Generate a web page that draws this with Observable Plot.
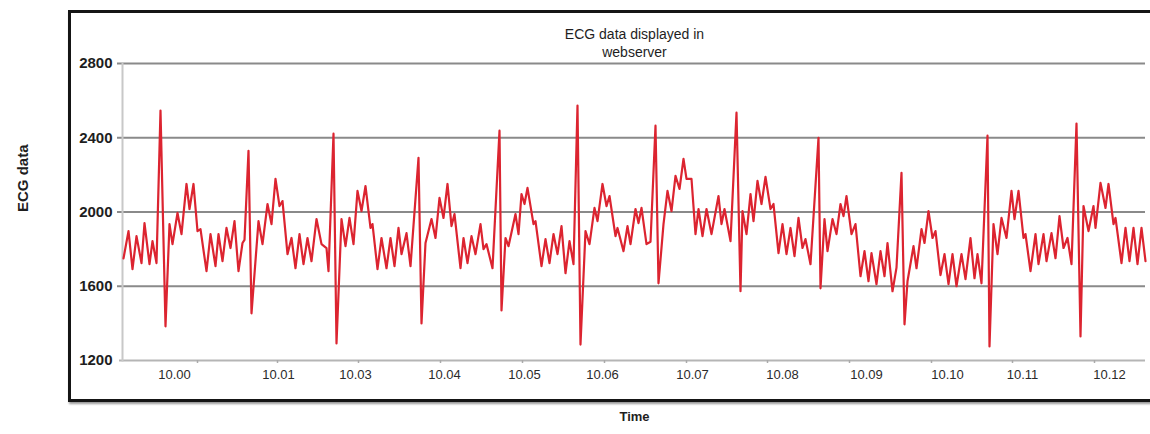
<!DOCTYPE html>
<html>
<head>
<meta charset="utf-8">
<script src="https://cdn.jsdelivr.net/npm/d3@7"></script>
<script src="https://cdn.jsdelivr.net/npm/@observablehq/plot@0.6"></script>
<style>
  html, body { margin: 0; padding: 0; background: #fff; overflow: hidden; }
  #wrap { position: relative; width: 1150px; height: 434px; }
  #box { position: absolute; left: 68px; top: 10px; width: 1110px; height: 386px;
         border: 3px solid #151515; box-shadow: 1px 2px 2px #999; pointer-events: none; }
  svg { font-family: "Liberation Sans", Arial, sans-serif; }
</style>
</head>
<body>
<div id="wrap"><div id="box"></div></div>
<script>
// sample index of each traced vertex
const sampleIndex = [
  0,5,9,13,18,21,26,29,33,37,42,46,49,54,58,63,66,70,74,77,83,87,92,95,99,103,107,111,115,119,121,125,128,
  135,139,144,148,152,156,159,164,168,172,176,180,184,188,193,198,203,205,210,213,218,222,226,230,234,238,
  242,247,249,254,258,263,267,271,275,278,283,287,295,298,302,308,312,316,320,324,328,331,337,340,344,348,
  352,357,360,363,369,376,378,382,385,392,395,398,401,404,410,412,418,422,426,430,434,438,442,446,450,454,
  457,462,466,471,474,479,483,486,492,494,500,504,507,512,515,518,523,527,532,535,540,544,548,552,556,560,
  563,568,572,575,579,583,588,595,598,601,607,613,617,619,623,627,630,634,638,642,647,650,655,659,663,667,
  671,675,679,682,687,695,697,701,704,709,713,717,720,723,728,732,737,741,745,748,753,757,761,764,769,773,
  778,781,784,790,793,798,801,805,809,812,817,821,825,829,833,838,842,847,851,854,858,864,866,870,874,878,
  883,888,891,895,900,902,907,912,915,920,923,928,932,936,940,944,948,953,957,960,965,970,972,977,982,985,
  990,992,998,1002,1006,1010,1014,1018,1022
];
// ECG value of each vertex
const ecgValue = [
  1750,1897,1692,1870,1725,1940,1719,1843,1725,2546,1384,1935,1827,1995,1881,2151,2016,2151,1897,1908,1681,
  1881,1708,1881,1735,1914,1806,1951,1681,1833,1850,2330,1454,
  1951,1827,2043,1935,2178,2032,2059,1773,1860,1697,1881,1719,1860,1735,1962,1827,1806,1681,2422,1292,1962,
  1816,1968,1827,2114,2005,2140,1914,1935,1692,1860,1697,1860,1708,1914,1773,1886,1708,2292,1400,1833,1962,
  1860,2076,1968,2151,1924,1989,1697,1860,1725,1870,1773,1935,1800,1827,1697,2438,1470,1860,1816,1989,1881,
  2097,2043,2130,1935,1951,1708,1854,1725,1881,1773,1924,1670,1843,1719,2573,1286,1897,1827,2022,1951,2151,
  2032,2086,1870,1914,1789,1924,1827,2016,1940,2022,1827,1840,2465,1616,1935,2114,2005,2195,2124,2286,2178,
  2178,1881,2016,1870,2016,1881,2086,1935,2016,1843,2535,1573,2005,1881,2097,1951,2168,2043,2189,2016,2043,
  1778,1935,1773,1914,1762,1968,1806,1854,1719,2400,1589,1962,1789,1962,1881,2043,1978,2086,1881,1935,1654,
  1789,1627,1778,1611,1789,1654,1833,1573,1700,2211,1395,1627,1816,1697,1908,1833,2005,1860,1897,1660,1773,
  1611,1773,1600,1773,1638,1860,1643,1773,1616,2411,1276,1935,1773,1968,1860,2114,1962,2114,1860,1881,1681,
  1881,1719,1881,1735,1886,1751,1978,1806,1860,1719,2476,1330,2032,1897,2032,1914,2157,2022,2151,1935,1968,
  1725,1914,1735,1914,1719,1914,1735
];
const yTicks = [1200, 1600, 2000, 2400, 2800];
const timeLabels = ["10.00","10.01","10.03","10.04","10.05","10.06","10.07","10.08","10.09","10.10","10.11","10.12"];
const timeLabelSample = [51,155,232,321,401,479,569,659,743,824,899,986];
const timeTickSample = [74,154,235,317,399,481,563,644,726,808,889,971];

const data = sampleIndex.map((s, i) => ({s, v: ecgValue[i]}));
const labels = timeLabels.map((t, i) => ({t, s: timeLabelSample[i]}));

const chart = Plot.plot({
  width: 1150,
  height: 434,
  marginLeft: 123,
  marginRight: 5,
  marginTop: 63,
  marginBottom: 74,
  style: {background: "transparent", fontFamily: "Liberation Sans, Arial, sans-serif"},
  x: {domain: [0, 1022], axis: null},
  y: {domain: [1200, 2800], axis: null},
  marks: [
    Plot.ruleY(yTicks.filter(d => d > 1200), {stroke: "#8a8a8a", strokeWidth: 2, insetLeft: -6}),
    Plot.ruleY([1200], {stroke: "#b5b5b5", strokeWidth: 2, insetLeft: -4}),
    Plot.frame({anchor: "left", stroke: "#c8c8c8", strokeWidth: 2, dx: -1}),
    Plot.axisY(yTicks, {tickSize: 0, tickPadding: 11, tickFormat: d => String(d), label: null, fontSize: 15, fontWeight: "bold", fill: "#1e1e1e"}),
    Plot.axisX(timeTickSample, {tickSize: 3, tickFormat: () => "", label: null, stroke: "#aaa", strokeWidth: 1.5}),
    Plot.text(labels, {x: "s", text: "t", frameAnchor: "bottom", dy: 18, fontSize: 13, fill: "#2a2a2a"}),
    Plot.line(data, {x: "s", y: "v", stroke: "#dc2430", strokeWidth: 2.2, strokeLinejoin: "round"}),
    Plot.text(["ECG data displayed in\nwebserver"], {frameAnchor: "top", dy: -21, lineAnchor: "middle", fontSize: 14, fill: "#1e1e1e", lineHeight: 1.25}),
    Plot.text(["Time"], {frameAnchor: "bottom", dy: 60, fontSize: 13, fontWeight: "bold", fill: "#1e1e1e"}),
    Plot.text(["ECG data"], {frameAnchor: "left", dx: -100, rotate: -90, fontSize: 15, fontWeight: "bold", fill: "#1e1e1e"})
  ]
});
chart.style.position = "absolute";
chart.style.left = "0px";
chart.style.top = "0px";
document.getElementById("wrap").prepend(chart);
</script>
</body>
</html>
